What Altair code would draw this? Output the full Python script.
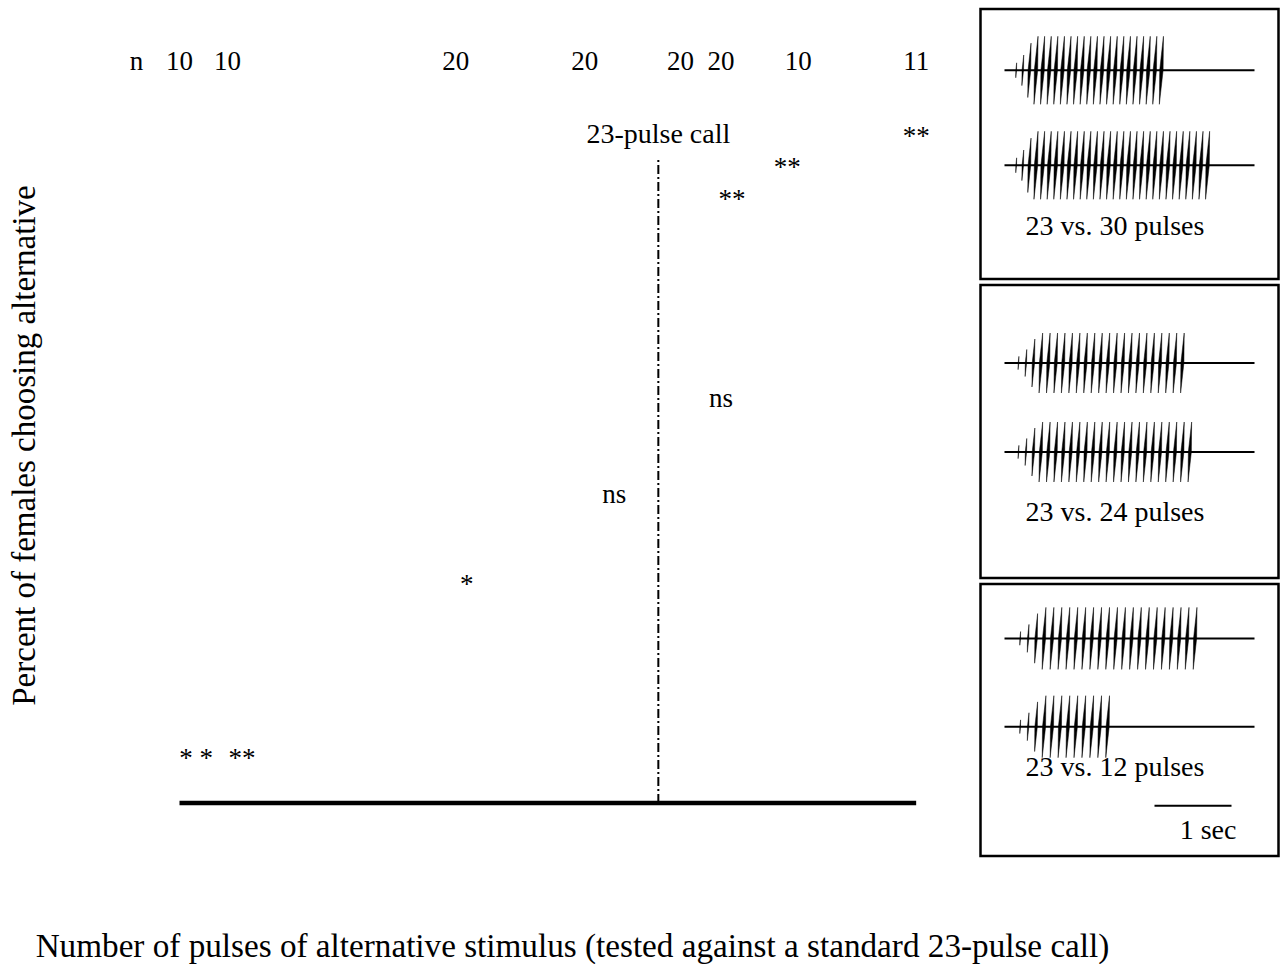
import altair as alt
import pandas as pd

FONT = "Liberation Serif"

# ---------------- main panel data ----------------
# x positions are in "number of pulses" units, y in "percent" units
n_pos = [8.83, 10.0, 11.3, 17.5, 21.0, 23.6, 24.7, 26.8, 30.0]
n_text = ["n", "10", "10", "20", "20", "20", "20", "10", "11"]
n_level = 103.8

sig_pos = [10.45, 11.7, 17.8, 21.8, 24.7, 25.0, 26.5, 30.0]
sig_level = [5.1, 5.1, 29.7, 42.5, 56.1, 84.3, 88.8, 93.2]
sig_text = ["* *", "**", "*", "ns", "ns", "**", "**", "**"]

standard_pulses = [23]
standard_label = ["23-pulse call"]
standard_label_level = [93.5]
standard_line_top = [91.1]
baseline_from = [10]
baseline_to = [30]

# ---------------- inset data ----------------
pairs = [(23, 30), (23, 24), (23, 12)]
pair_labels = ["23 vs. 30 pulses", "23 vs. 24 pulses", "23 vs. 12 pulses"]
onset_envelope = [0.22, 0.45, 0.8]   # relative amplitude of the first pulses
scale_label = "1 sec"

# ---------------- layout / style constants ----------------
X_DOMAIN = [7, 31]
Y_DOMAIN = [-7.5, 112.5]
MAIN_W, MAIN_H = 884, 847
PANEL_W = 298
PANEL_H = [270, 293, 272]
ROW_Y = [(61.3, 156.3), (78, 167), (54.4, 142.7)]
LABEL_Y = [226.3, 236, 191.7]
HALF_AMP = [34, 30, 31]
SPACING = [6.6, 7.45, 7.95]
FIRST_PX = [35.7, 38, 39.7]
LINE_PX = (24, 274)
LABEL_PX = 134.5

xs = alt.Scale(domain=X_DOMAIN, nice=False, zero=False)
ys = alt.Scale(domain=Y_DOMAIN, nice=False, zero=False)

x_axis = alt.Axis(
    title="Number of pulses of alternative stimulus (tested against a standard 23-pulse call)",
    labels=False, ticks=False, domain=False, grid=False,
    titleFont=FONT, titleFontSize=33.2, titleFontWeight="normal", titleColor="black",
    titleX=503, titleY=100, titleAlign="center", titleBaseline="alphabetic",
)
y_axis = alt.Axis(
    title="Percent of females choosing alternative",
    labels=False, ticks=False, domain=False, grid=False,
    titleFont=FONT, titleFontSize=33, titleFontWeight="normal", titleColor="black",
    titlePadding=28, titleY=436, titleAlign="center",
)


def X(field):
    return alt.X(field, scale=xs, axis=x_axis)


def Y(field):
    return alt.Y(field, scale=ys, axis=y_axis)


base_df = pd.DataFrame({"x": baseline_from, "x2": baseline_to, "y": [0]})
baseline = alt.Chart(base_df).mark_rule(color="black", strokeWidth=4.5).encode(
    x=X("x:Q"), x2="x2:Q", y=Y("y:Q"),
)

std_df = pd.DataFrame({"x": standard_pulses, "y": [0], "y2": standard_line_top,
                       "ly": standard_label_level, "label": standard_label})
std_line = alt.Chart(std_df).mark_rule(color="black", strokeWidth=2, strokeDash=[9, 3, 2, 3]).encode(
    x=X("x:Q"), y=Y("y:Q"), y2="y2:Q",
)
std_text = alt.Chart(std_df).mark_text(font=FONT, fontSize=28, color="black",
                                       align="center", baseline="alphabetic").encode(
    x=X("x:Q"), y=Y("ly:Q"), text="label:N",
)

n_df = pd.DataFrame({"x": n_pos, "label": n_text, "y": [n_level] * len(n_pos)})
n_layer = alt.Chart(n_df).mark_text(font=FONT, fontSize=27, color="black",
                                    align="center", baseline="alphabetic").encode(
    x=X("x:Q"), y=Y("y:Q"), text="label:N",
)

sig_df = pd.DataFrame({"x": sig_pos, "y": sig_level, "label": sig_text})
sig_layer = alt.Chart(sig_df).mark_text(font=FONT, fontSize=27, color="black",
                                        align="center", baseline="alphabetic").encode(
    x=X("x:Q"), y=Y("y:Q"), text="label:N",
)

main = alt.layer(baseline, std_line, std_text, n_layer, sig_layer).properties(
    width=MAIN_W, height=MAIN_H
)

# slightly slanted, tapered pulse (top leans right, bottom leans left)
PULSE_PATH = "M0.06,-1L0.05,0L-0.06,1L-0.05,0Z"


def panel(i):
    s = SPACING[i]
    f = FIRST_PX[i]
    H = PANEL_H[i]
    to_units = lambda px: 1 + (px - f) / s
    pxs = alt.Scale(domain=[to_units(0), to_units(PANEL_W)], nice=False, zero=False)
    pys = alt.Scale(domain=[H, 0], nice=False, zero=False)

    rows = []
    pulses = []
    for r, count in enumerate(pairs[i]):
        yv = ROW_Y[i][r]
        rows.append({"x": to_units(LINE_PX[0]), "x2": to_units(LINE_PX[1]), "y": yv})
        for k in range(1, count + 1):
            amp = onset_envelope[k - 1] if k <= len(onset_envelope) else 1.0
            pulses.append({"x": k, "y": yv, "size": (2 * amp * HALF_AMP[i]) ** 2})
    lines = alt.Chart(pd.DataFrame(rows)).mark_rule(color="black", strokeWidth=2).encode(
        x=alt.X("x:Q", scale=pxs, axis=None), x2="x2:Q",
        y=alt.Y("y:Q", scale=pys, axis=None),
    )
    pts = alt.Chart(pd.DataFrame(pulses)).mark_point(
        shape=PULSE_PATH, filled=True, color="black", opacity=1, stroke="black", strokeWidth=0.5
    ).encode(
        x=alt.X("x:Q", scale=pxs, axis=None),
        y=alt.Y("y:Q", scale=pys, axis=None),
        size=alt.Size("size:Q", scale=None, legend=None),
    )
    lab = alt.Chart(pd.DataFrame({"x": [to_units(LABEL_PX)], "y": [LABEL_Y[i]],
                                  "label": [pair_labels[i]]})).mark_text(
        font=FONT, fontSize=28, color="black", align="center", baseline="alphabetic"
    ).encode(
        x=alt.X("x:Q", scale=pxs, axis=None),
        y=alt.Y("y:Q", scale=pys, axis=None),
        text="label:N",
    )
    layers = [lines, pts, lab]
    if i == 2:
        bar = alt.Chart(pd.DataFrame({"x": [to_units(174)], "x2": [to_units(251)], "y": [221.7]})).mark_rule(
            color="black", strokeWidth=2).encode(
            x=alt.X("x:Q", scale=pxs, axis=None), x2="x2:Q",
            y=alt.Y("y:Q", scale=pys, axis=None),
        )
        bar_lab = alt.Chart(pd.DataFrame({"x": [to_units(227.5)], "y": [254.7], "label": [scale_label]})).mark_text(
            font=FONT, fontSize=28, color="black", align="center", baseline="alphabetic"
        ).encode(
            x=alt.X("x:Q", scale=pxs, axis=None),
            y=alt.Y("y:Q", scale=pys, axis=None),
            text="label:N",
        )
        layers += [bar, bar_lab]
    return alt.layer(*layers).properties(
        width=PANEL_W, height=H,
        view=alt.ViewBackground(stroke="black", strokeWidth=2.5, fill="white"),
    )


inset = alt.vconcat(panel(0), panel(1), panel(2), spacing=6, bounds="flush")

chart = alt.hconcat(main, inset, spacing=27.5, bounds="flush").properties(
    padding={"left": 8, "top": 7, "right": 2, "bottom": 2},
    background="white",
).configure_view(stroke=None)

chart.save("out.html", embed_options={"renderer": "svg", "actions": False})
